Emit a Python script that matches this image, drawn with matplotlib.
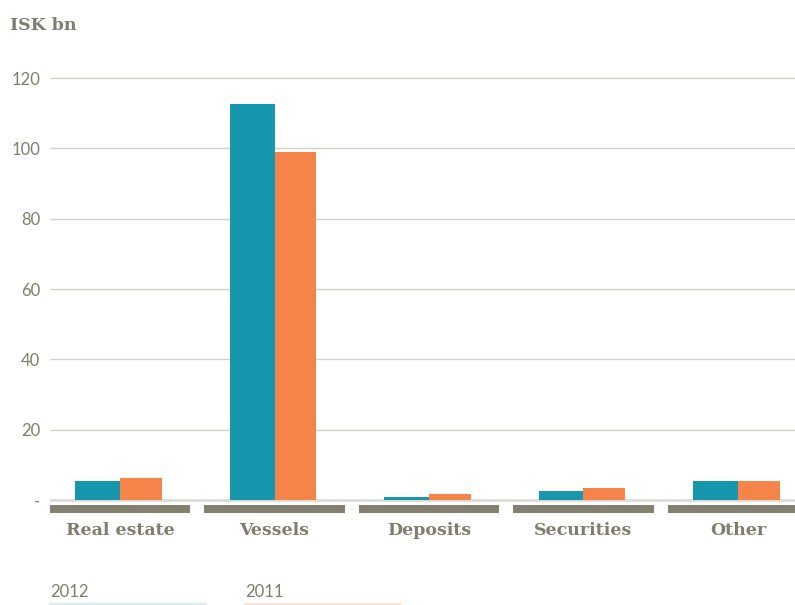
import numpy as np
import matplotlib.pyplot as plt
from matplotlib.lines import Line2D

categories = ['Real estate', 'Vessels', 'Deposits', 'Securities', 'Other']
y2012 = [5.4, 112.5, 0.8, 2.6, 5.4]
y2011 = [6.2, 98.9, 1.7, 3.4, 5.4]
yticks = [0, 20, 40, 60, 80, 100, 120]
yticklabels = ['-', '20', '40', '60', '80', '100', '120']

teal = '#1697ad'
orange = '#f5844a'
grey = '#7f7d6d'

fig = plt.figure(figsize=(7.95, 6.05), dpi=100)
ax = fig.add_axes([50 / 795, 0.1502, 745 / 795, 0.7324])

x = np.arange(len(categories))
ax.bar(x - 0.145, y2012, width=0.29, color=teal, zorder=3)
ax.bar(x + 0.135, y2011, width=0.27, color=orange, zorder=3)

# grey bands under each category
ax.bar(x, [2.28] * len(x), bottom=-3.7, width=0.91, color='#838070', zorder=3)

ax.set_xlim(-0.4545, 4.37)
ax.set_ylim(-4, 122)

for t in yticks[1:]:
    ax.axhline(t, color='#d2d1ca', lw=1, zorder=1)
ax.axhline(0, color='#dcdad4', lw=2, zorder=2)

ax.set_yticks(yticks)
ax.set_yticklabels(yticklabels, fontsize=12, color=grey, family='Lato')
ax.set_xticks(x)
ax.set_xticklabels(categories, fontsize=12.5, color=grey, fontweight='bold',
                   family='DejaVu Serif')
ax.tick_params(axis='both', length=0)
ax.tick_params(axis='y', pad=7)
ax.tick_params(axis='x', pad=6)
for s in ax.spines.values():
    s.set_visible(False)

fig.text(10 / 795, 1 - 25 / 605, 'ISK bn', fontsize=12.5, fontweight='bold',
         color=grey, family='DejaVu Serif', va='center', ha='left')

fig.text(50 / 795, 1 - 592 / 605, '2012', fontsize=12, color=grey,
         family='Lato', va='center', ha='left')
fig.text(245 / 795, 1 - 592 / 605, '2011', fontsize=12, color=grey,
         family='Lato', va='center', ha='left')
fig.add_artist(Line2D([50 / 795, 205 / 795], [0.002, 0.002], color='#d3edf2', lw=2,
                      transform=fig.transFigure))
fig.add_artist(Line2D([245 / 795, 400 / 795], [0.002, 0.002], color='#fde2d3', lw=2,
                      transform=fig.transFigure))

fig.savefig('out.png', dpi=100)
